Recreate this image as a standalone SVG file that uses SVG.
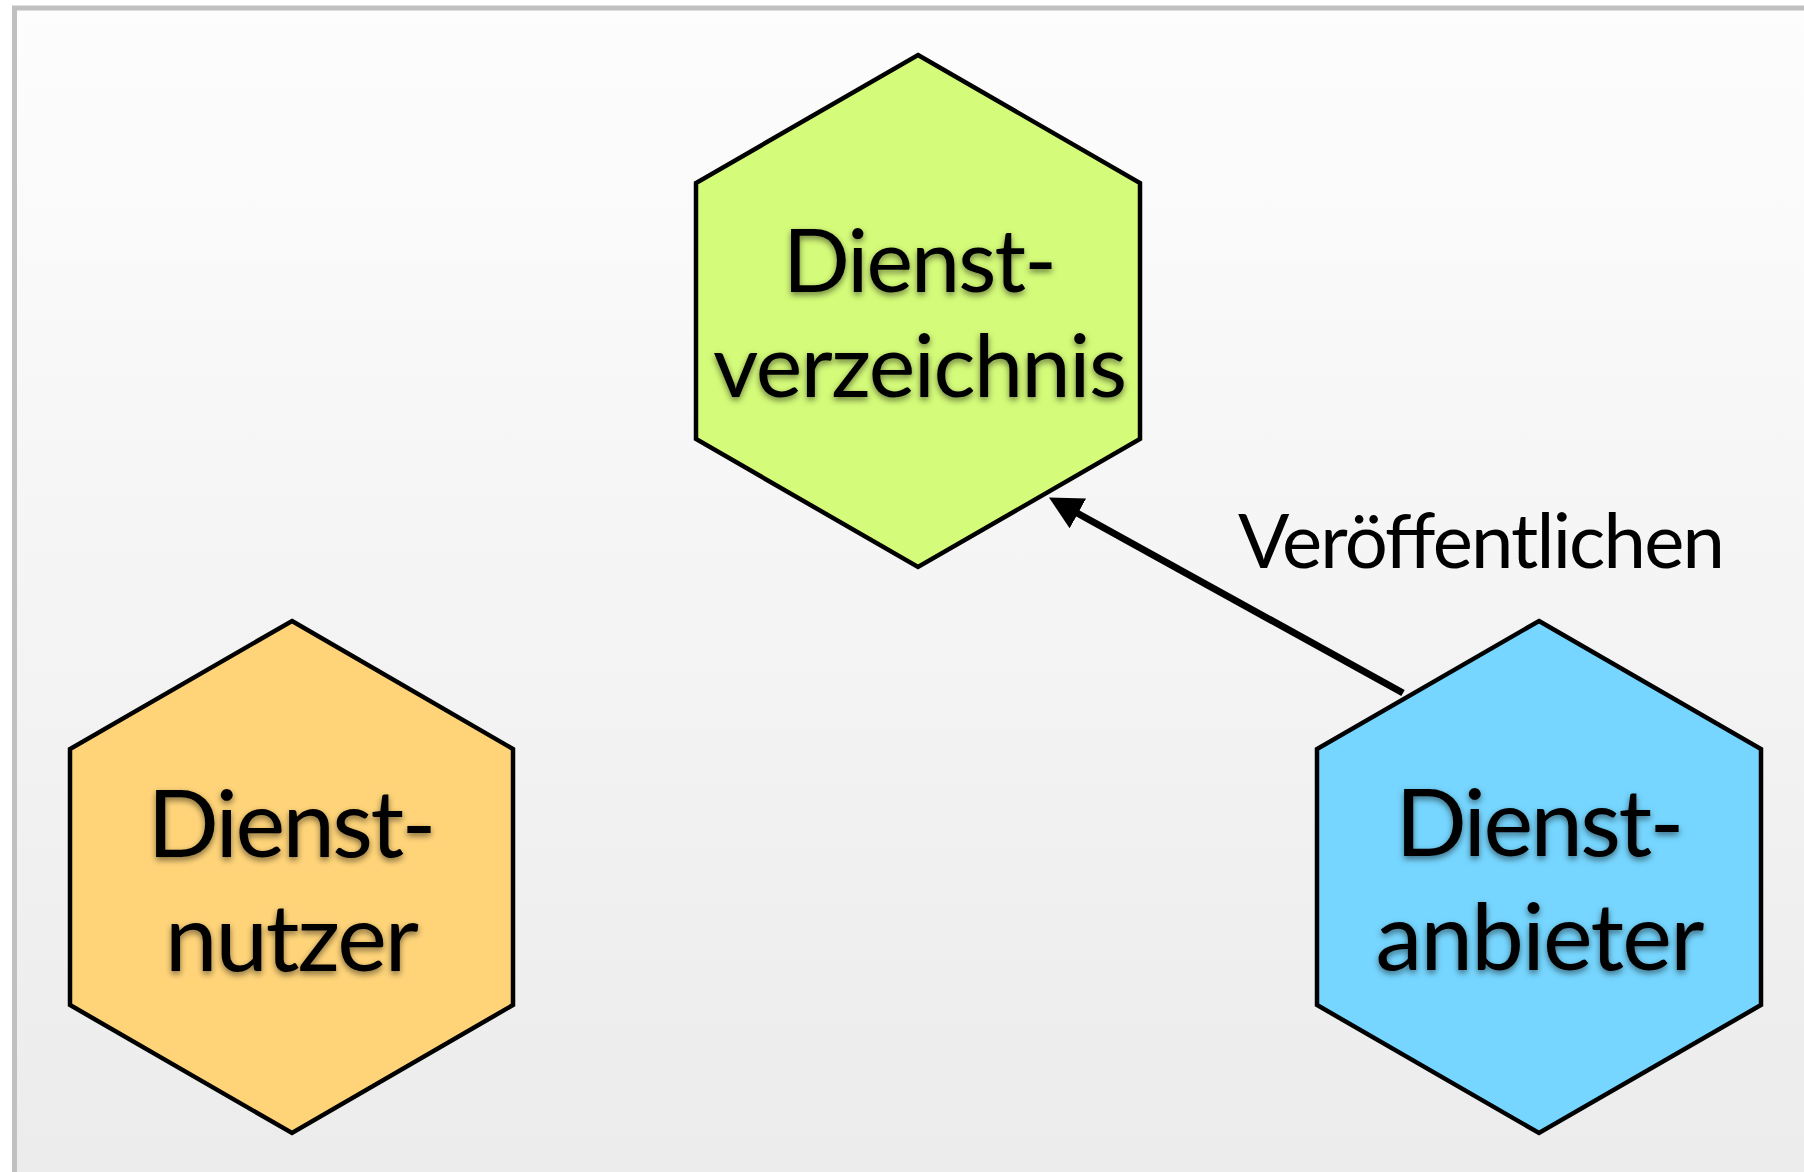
<svg xmlns="http://www.w3.org/2000/svg" width="1804" height="1172" viewBox="0 0 1804 1172">
  <defs>
    <linearGradient id="bg" x1="0" y1="0" x2="0" y2="1">
      <stop offset="0" stop-color="#fdfdfd"/>
      <stop offset="1" stop-color="#ebebeb"/>
    </linearGradient>
    <filter id="shadow" x="-10%" y="-20%" width="120%" height="150%">
      <feDropShadow dx="0" dy="3" stdDeviation="3" flood-color="#000" flood-opacity="0.5"/>
    </filter>
    <marker id="arrow" markerUnits="userSpaceOnUse" markerWidth="40" markerHeight="40" refX="1" refY="17" orient="auto">
      <path d="M0,0 L33,17 L0,34 Z" fill="#000"/>
    </marker>
  </defs>
  <style>
    .hex { stroke: #000; stroke-width: 4.5; stroke-linejoin: miter; }
    .lbl { font-family: Lato, "Open Sans", "Liberation Sans", sans-serif; fill: #000; text-anchor: middle; filter: url(#shadow); }
    .edge { stroke: #000; stroke-width: 7; fill: none; }
    .elbl { font-family: Lato, "Open Sans", "Liberation Sans", sans-serif; fill: #000; font-size: 76px; }
  </style>
  <rect x="0" y="0" width="1804" height="1172" fill="#ffffff"/>
  <rect x="14.5" y="8" width="1820" height="1200" fill="url(#bg)" stroke="#c0c0c0" stroke-width="5"/>

  <g id="dienstverzeichnis">
    <polygon class="hex" fill="#d4fb79" points="918,55 1140,183 1140,439 918,567 696,439 696,183"/>
    <text class="lbl" font-size="88" x="920" y="292" textLength="274" lengthAdjust="spacing">Dienst-</text>
    <text class="lbl" font-size="88" x="920" y="397" textLength="414" lengthAdjust="spacing">verzeichnis</text>
  </g>

  <g id="dienstnutzer">
    <polygon class="hex" fill="#ffd479" points="292,621 513,749 513,1005 292,1133 70,1005 70,749"/>
    <text class="lbl" font-size="94" x="292" y="857" textLength="289" lengthAdjust="spacing">Dienst-</text>
    <text class="lbl" font-size="94" x="292" y="971" textLength="254" lengthAdjust="spacing">nutzer</text>
  </g>

  <g id="dienstanbieter">
    <polygon class="hex" fill="#76d6ff" points="1539,621 1761,749 1761,1005 1539,1133 1317,1005 1317,749"/>
    <text class="lbl" font-size="94" x="1540" y="856" textLength="289" lengthAdjust="spacing">Dienst-</text>
    <text class="lbl" font-size="94" x="1540" y="970" textLength="329" lengthAdjust="spacing">anbieter</text>
  </g>

  <g id="connectors">
    <line class="edge" x1="1403" y1="693" x2="1077" y2="513" marker-end="url(#arrow)"/>
    <text class="elbl" x="1238" y="568" textLength="487" lengthAdjust="spacing">Veröffentlichen</text>
  </g>
</svg>
